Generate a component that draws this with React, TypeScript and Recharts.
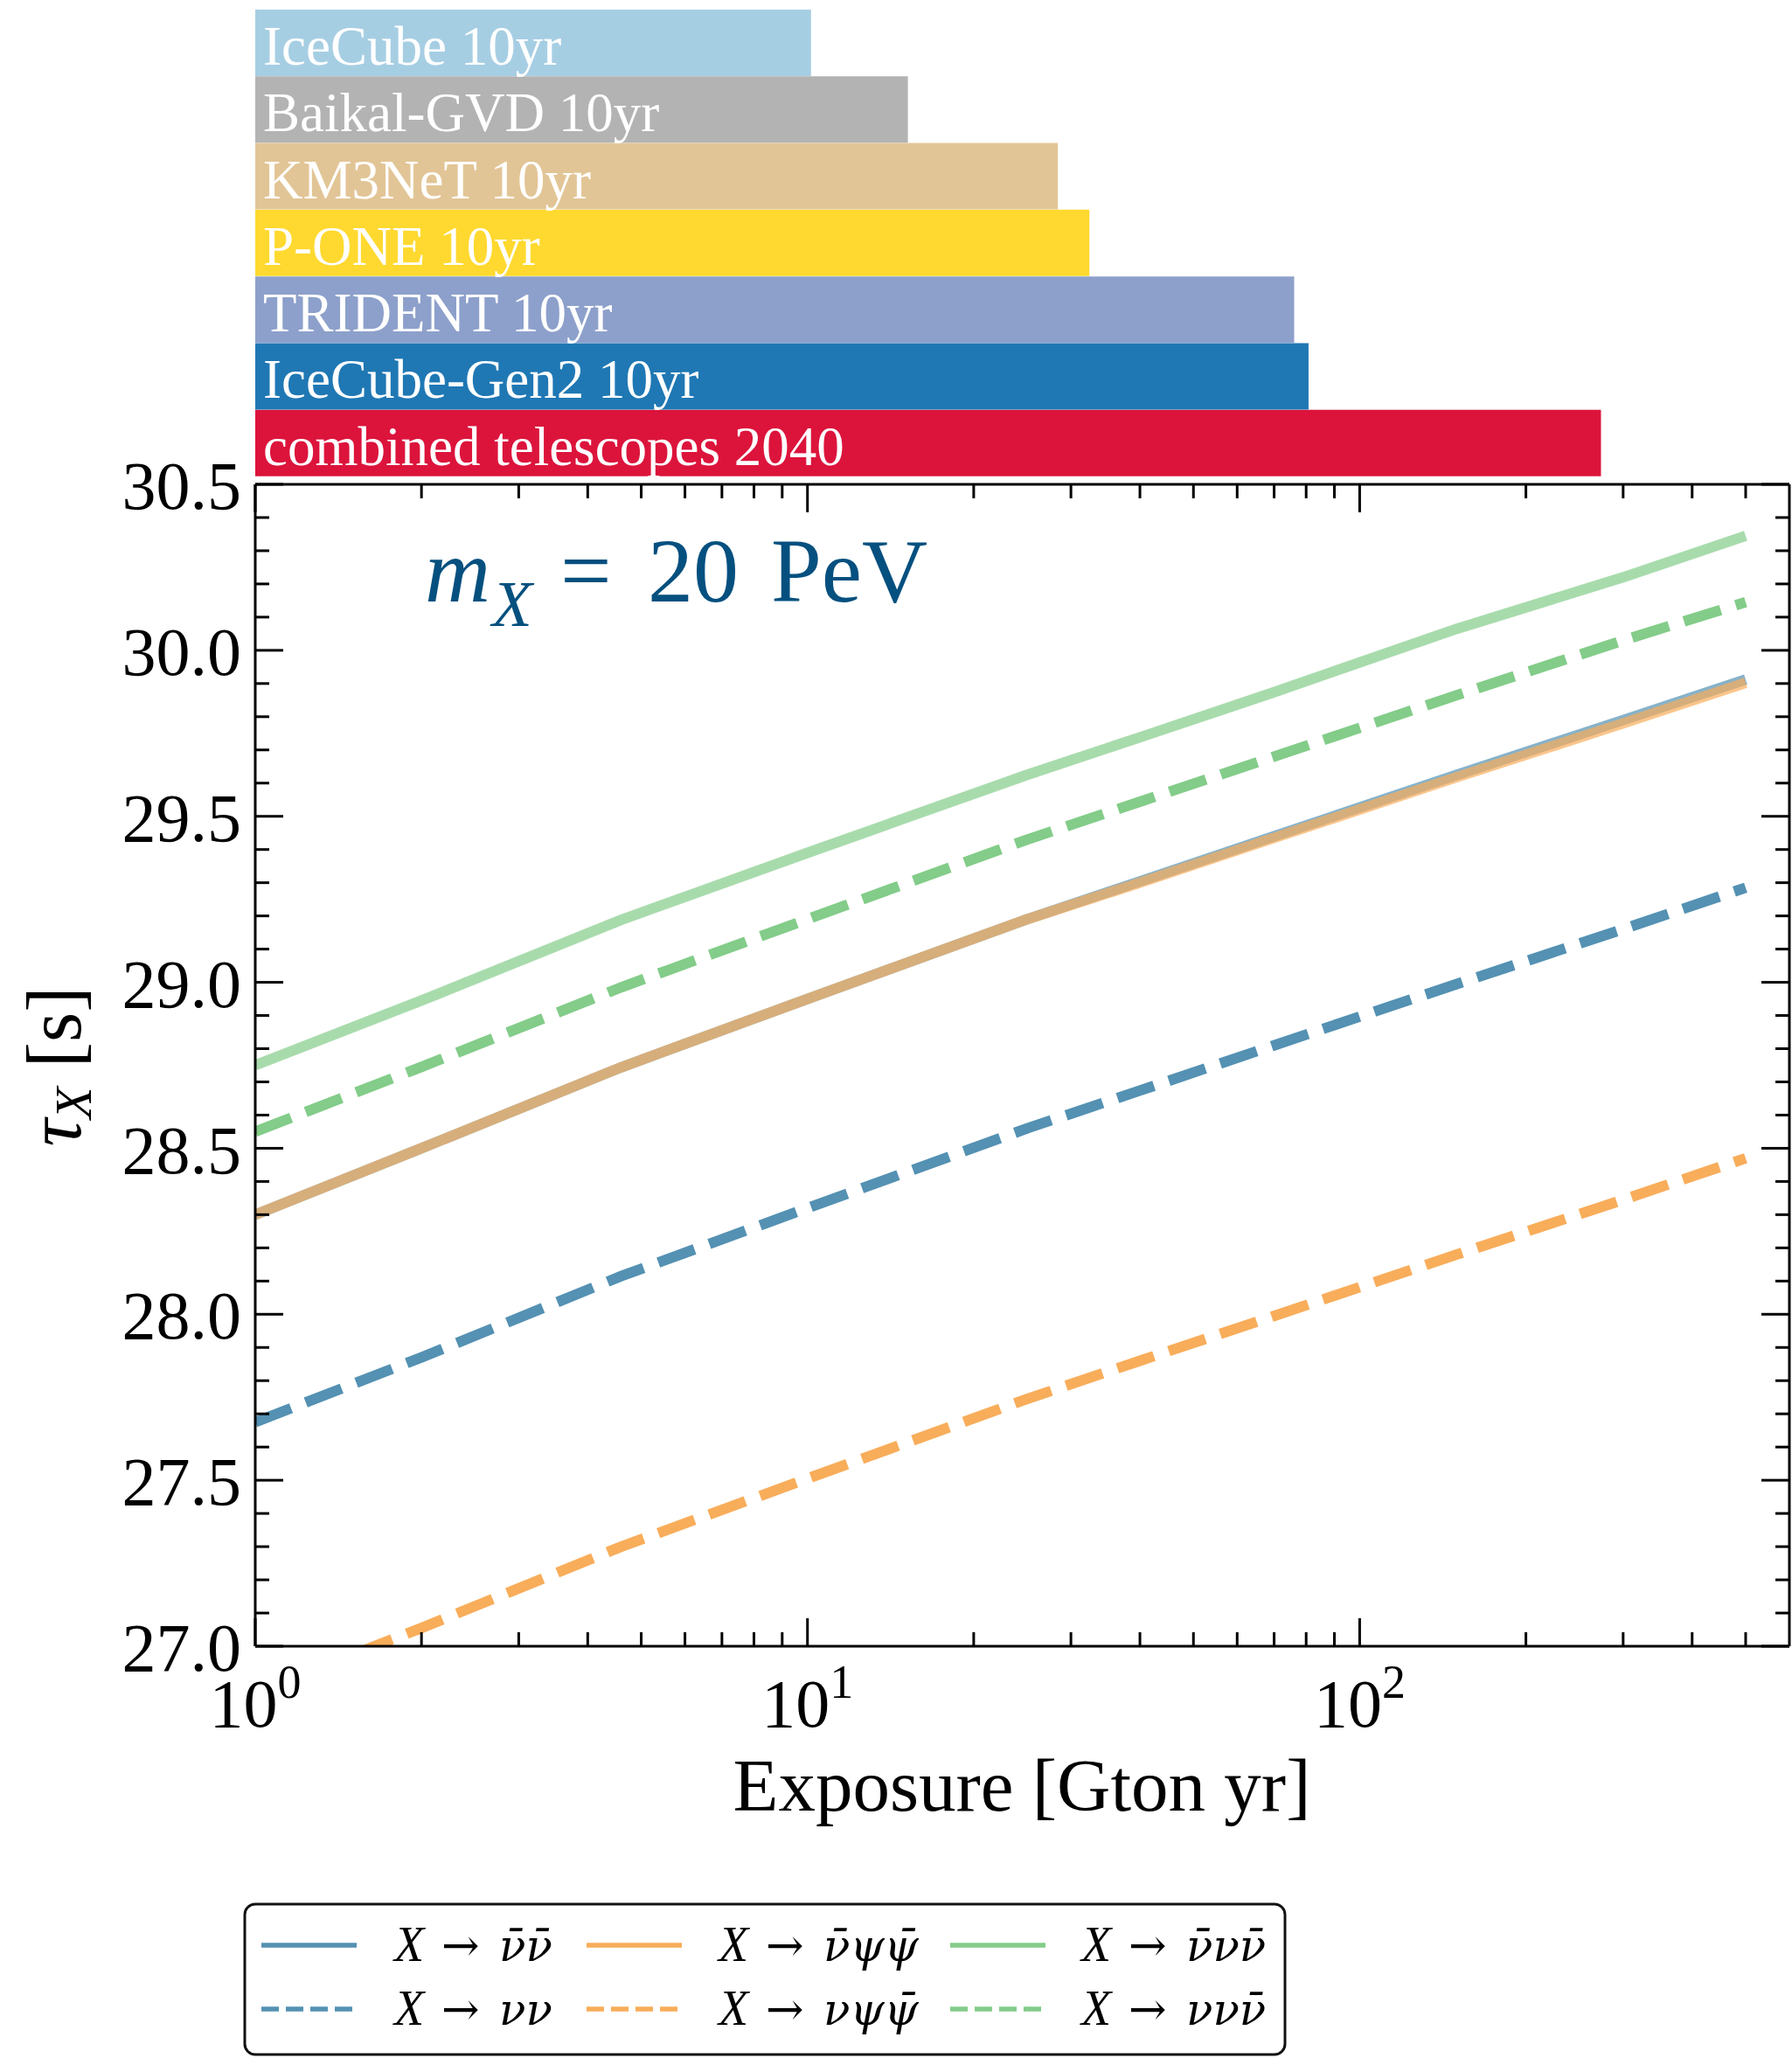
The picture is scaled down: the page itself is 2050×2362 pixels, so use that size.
import React from 'react';
import { LineChart, Line, XAxis, YAxis, BarChart, Bar, Cell, LabelList } from 'recharts';

const SERIF = "'Liberation Serif', 'DejaVu Serif', serif";
const MATH = "'DejaVu Serif', 'Liberation Serif', serif";

// exposure grid [Gton yr] and lifetime limits log10(tau_X / s)
const EXPOSURE = [1, 2, 4.6, 10, 25, 40, 70, 150, 300, 500];
const NUBAR_NUBAR = [28.3, 28.5, 28.744, 28.95, 29.19, 29.304, 29.44, 29.625, 29.79, 29.912];
const NU_NU = [27.675, 27.87, 28.115, 28.32, 28.56, 28.674, 28.81, 28.995, 29.16, 29.285];
const NUBAR_PSIPSI = [28.3, 28.5, 28.744, 28.95, 29.19, 29.3, 29.435, 29.618, 29.78, 29.902];
const NU_PSIPSI = [26.86, 27.055, 27.3, 27.505, 27.745, 27.86, 27.995, 28.18, 28.345, 28.47];
const NUBAR_NUNU = [28.75, 28.945, 29.188, 29.39, 29.625, 29.738, 29.874, 30.065, 30.22, 30.345];
const NU_NUNU = [28.55, 28.745, 28.985, 29.19, 29.43, 29.544, 29.68, 29.865, 30.03, 30.145];

// telescope exposures (bottom to top)
const BAR_NAMES = [
  'combined telescopes 2040',
  'IceCube-Gen2 10yr',
  'TRIDENT 10yr',
  'P-ONE 10yr',
  'KM3NeT 10yr',
  'Baikal-GVD 10yr',
  'IceCube 10yr',
];
const BAR_EXPOSURE = [273.5, 80.8, 76.1, 32.4, 28.4, 15.2, 10.15];
const BAR_COLORS = ['#dc143c', '#1f78b4', '#8da0cb', '#ffd92f', '#e2c596', '#b3b3b3', '#a6cee3'];

const X_TICKS = [1, 2, 3, 4, 5, 6, 7, 8, 9, 10, 20, 30, 40, 50, 60, 70, 80, 90, 100, 200, 300, 400, 500];
const X_MAJOR = [1, 10, 100];
const X_MAJOR_EXP = ['0', '1', '2'];
const Y_TICKS = [
  27.0, 27.1, 27.2, 27.3, 27.4, 27.5, 27.6, 27.7, 27.8, 27.9,
  28.0, 28.1, 28.2, 28.3, 28.4, 28.5, 28.6, 28.7, 28.8, 28.9,
  29.0, 29.1, 29.2, 29.3, 29.4, 29.5, 29.6, 29.7, 29.8, 29.9,
  30.0, 30.1, 30.2, 30.3, 30.4, 30.5,
];
const Y_MAJOR = [27.0, 27.5, 28.0, 28.5, 29.0, 29.5, 30.0, 30.5];

const BLUE = '#5491b2';
const ORANGE = '#f8ad5a';
const GREEN = '#83cc89';
const ANNOT = '#05507f';

const NU = '\u03BD';
const NUB = '\u03BD\u0304';
const PSI = '\u03C8';
const PSIB = '\u03C8\u0304';
const LEGEND_COLORS = [BLUE, ORANGE, GREEN];
const LEGEND_SOLID = [NUB + NUB, NUB + PSI + PSIB, NUB + NU + NUB];
const LEGEND_DASHED = [NU + NU, NU + PSI + PSIB, NU + NU + NUB];

const rows = EXPOSURE.map((e, i) => ({
  e,
  nubarNubar: NUBAR_NUBAR[i],
  nuNu: NU_NU[i],
  nubarPsi: NUBAR_PSIPSI[i],
  nuPsi: NU_PSIPSI[i],
  nubarNunu: NUBAR_NUNU[i],
  nuNunu: NU_NUNU[i],
}));

const bars = BAR_NAMES.map((label, i) => ({ name: label, label, exposure: BAR_EXPOSURE[i] }));

const AXIS = { stroke: '#000', strokeWidth: 3 };
const MAJ = 32;
const MIN = 16;
const LW = 12;
const DASH = '44 18';
const isMajor = (list: number[], v: number) => list.some((m) => Math.abs(m - v) < 1e-6);

function LeftTick(props: any) {
  const { x, y, payload } = props;
  const major = isMajor(Y_MAJOR, payload.value);
  return (
    <g>
      <line x1={x} x2={x + (major ? MAJ : MIN)} y1={y} y2={y} stroke="#000" strokeWidth={3} />
      {major && (
        <text x={x - 16} y={y} dy="0.36em" textAnchor="end" fontSize={78} fontFamily={SERIF} fill="#000">
          {payload.value.toFixed(1)}
        </text>
      )}
    </g>
  );
}

function RightTick(props: any) {
  const { x, y, payload } = props;
  const major = isMajor(Y_MAJOR, payload.value);
  return <line x1={x} x2={x - (major ? MAJ : MIN)} y1={y} y2={y} stroke="#000" strokeWidth={3} />;
}

function BottomTick(props: any) {
  const { x, y, payload } = props;
  const idx = X_MAJOR.indexOf(payload.value);
  const major = idx >= 0;
  return (
    <g>
      <line x1={x} x2={x} y1={y} y2={y - (major ? MAJ : MIN)} stroke="#000" strokeWidth={3} />
      {major && (
        <text x={x} y={y + 92} textAnchor="middle" fontSize={78} fontFamily={SERIF} fill="#000">
          10
          <tspan dy={-33} fontSize={54}>{X_MAJOR_EXP[idx]}</tspan>
        </text>
      )}
    </g>
  );
}

function TopTick(props: any) {
  const { x, y, payload } = props;
  const major = X_MAJOR.includes(payload.value);
  return <line x1={x} x2={x} y1={y} y2={y + (major ? MAJ : MIN)} stroke="#000" strokeWidth={3} />;
}

function BarLabel(props: any) {
  const vb = props.viewBox || props;
  const x = vb.x ?? props.x;
  const y = vb.y ?? props.y;
  const h = vb.height ?? props.height;
  return (
    <text x={x + 9} y={y + h / 2 + 25} fill="#fff" fontSize={63} fontFamily={SERIF}>
      {props.value}
    </text>
  );
}

const axisCommon = {
  tickSize: 0,
  tickMargin: 0,
  tickLine: false,
  axisLine: AXIS,
  interval: 0 as const,
  allowDataOverflow: true,
};

export default function App() {
  const legendCols = [299, 671, 1087];
  const textCols = [451, 822, 1237];
  return (
    <div style={{ position: 'absolute', left: 0, top: 0, width: 2050, height: 2362, background: '#fff' }}>
      <div style={{ position: 'absolute', left: 0, top: 0 }}>
        <LineChart width={2050} height={2362} data={rows} margin={{ top: 553, right: 2, bottom: 478, left: 291 }}>
          <XAxis
            xAxisId="b"
            dataKey="e"
            type="number"
            scale="log"
            domain={[1, 600]}
            ticks={X_TICKS}
            height={1}
            tick={BottomTick}
            {...axisCommon}
          />
          <XAxis
            xAxisId="t"
            orientation="top"
            dataKey="e"
            type="number"
            scale="log"
            domain={[1, 600]}
            ticks={X_TICKS}
            height={1}
            tick={TopTick}
            {...axisCommon}
          />
          <YAxis yAxisId="l" type="number" domain={[27, 30.5]} ticks={Y_TICKS} width={1} tick={LeftTick} {...axisCommon} />
          <YAxis
            yAxisId="r"
            orientation="right"
            type="number"
            domain={[27, 30.5]}
            ticks={Y_TICKS}
            width={1}
            tick={RightTick}
            {...axisCommon}
          />
          <Line xAxisId="b" yAxisId="l" dataKey="nubarNubar" stroke={BLUE} strokeOpacity={0.7} strokeWidth={LW} dot={false} strokeLinejoin="round" isAnimationActive={false} />
          <Line xAxisId="b" yAxisId="l" dataKey="nuNu" stroke={BLUE} strokeWidth={LW} strokeDasharray={DASH} dot={false} isAnimationActive={false} />
          <Line xAxisId="b" yAxisId="l" dataKey="nubarPsi" stroke={ORANGE} strokeOpacity={0.7} strokeWidth={LW} dot={false} strokeLinejoin="round" isAnimationActive={false} />
          <Line xAxisId="b" yAxisId="l" dataKey="nuPsi" stroke={ORANGE} strokeWidth={LW} strokeDasharray={DASH} dot={false} isAnimationActive={false} />
          <Line xAxisId="b" yAxisId="l" dataKey="nubarNunu" stroke={GREEN} strokeOpacity={0.7} strokeWidth={LW} dot={false} strokeLinejoin="round" isAnimationActive={false} />
          <Line xAxisId="b" yAxisId="l" dataKey="nuNunu" stroke={GREEN} strokeWidth={LW} strokeDasharray={DASH} dot={false} isAnimationActive={false} />
        </LineChart>
      </div>

      <div style={{ position: 'absolute', left: 0, top: 0 }}>
        <BarChart
          width={2050}
          height={554}
          data={bars}
          layout="vertical"
          barCategoryGap={0}
          margin={{ top: 11, right: 3, bottom: 9, left: 292 }}
        >
          <XAxis type="number" scale="log" domain={[1, 600]} allowDataOverflow hide />
          <YAxis type="category" dataKey="name" reversed hide />
          <Bar dataKey="exposure" isAnimationActive={false}>
            {bars.map((b, i) => (
              <Cell key={b.name} fill={BAR_COLORS[i]} />
            ))}
            <LabelList dataKey="label" content={BarLabel} />
          </Bar>
        </BarChart>
      </div>

      <svg
        width={2050}
        height={2362}
        style={{ position: 'absolute', left: 0, top: 0, pointerEvents: 'none' }}
        fontFamily={SERIF}
      >
        {/* annotation */}
        <g fill={ANNOT}>
          <text x={486} y={688} fontSize={104} fontStyle="italic">m</text>
          <text x={563} y={716} fontSize={75} fontStyle="italic">X</text>
          <text x={641} y={688} fontSize={104}>=</text>
          <text x={741} y={688} fontSize={104}>20</text>
          <text x={882} y={688} fontSize={104}>PeV</text>
        </g>

        {/* axis labels */}
        <text x={1169} y={2071} fontSize={85} textAnchor="middle" fill="#000">
          Exposure [Gton yr]
        </text>
        <text transform="translate(92,1220) rotate(-90)" fontSize={88} textAnchor="middle" fill="#000">
          <tspan fontStyle="italic">{'\u03C4'}</tspan>
          <tspan fontStyle="italic" fontSize={60} dy={12}>X</tspan>
          <tspan dy={-12}> [s]</tspan>
        </text>

        {/* legend */}
        <rect x={280} y={2178} width={1190} height={172} rx={12} fill="#fff" stroke="#111" strokeWidth={3} />
        {LEGEND_COLORS.map((c, i) => (
          <g key={c}>
            <line x1={legendCols[i]} x2={legendCols[i] + 109} y1={2225} y2={2225} stroke={c} strokeWidth={5.5} />
            <line
              x1={legendCols[i]}
              x2={legendCols[i] + 109}
              y1={2298}
              y2={2298}
              stroke={c}
              strokeWidth={5.5}
              strokeDasharray="20 8"
            />
            {[LEGEND_SOLID[i], LEGEND_DASHED[i]].map((prod, r) => (
              <text key={r} y={r === 0 ? 2243 : 2316} fontSize={56} fill="#000">
                <tspan x={textCols[i]} fontStyle="italic">X</tspan>
                <tspan x={textCols[i] + 54} fontFamily={MATH} fontSize={52}>{'\u2192'}</tspan>
                <tspan x={textCols[i] + 120} fontFamily={MATH} fontStyle="italic" fontSize={50}>{prod}</tspan>
              </text>
            ))}
          </g>
        ))}
      </svg>
    </div>
  );
}
